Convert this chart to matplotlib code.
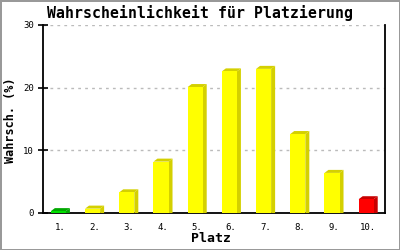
import matplotlib
matplotlib.use("Agg")
import matplotlib.pyplot as plt

plaetze = ["1.", "2.", "3.", "4.", "5.", "6.", "7.", "8.", "9.", "10."]
werte = [0.3, 0.7, 3.3, 8.2, 20.1, 22.6, 23.0, 12.6, 6.4, 2.2]
farben = ["#00e000"] + ["#ffff00"] * 8 + ["#ff0000"]
seiten = ["#00a800"] + ["#d4d000"] * 8 + ["#c80000"]

plt.rcParams['font.family'] = ['DejaVu Sans Mono']

fig = plt.figure(figsize=(4, 2.5), dpi=100)
fig.patch.set_edgecolor("#999999")
fig.patch.set_linewidth(2)
ax = fig.add_axes([0.1075, 0.148, 0.855, 0.752])

ax.set_xlim(0.5, 10.5)
ax.set_ylim(0, 30)

# Tiefe der Balken in Pixel -> Datenkoordinaten
dx = 4 / 34.2
dy = 3 / 6.27
w = 0.44

for i, (v, c, s) in enumerate(zip(werte, farben, seiten)):
    x0 = i + 1 - 0.05 - w / 2
    x1 = x0 + w
    ax.fill([x1, x1 + dx, x1 + dx, x1], [0, 0, v + dy, v], color=s, lw=0, zorder=3)
    ax.fill([x0, x0 + dx, x1 + dx, x1], [v, v + dy, v + dy, v], color=s, lw=0, zorder=3)
    ax.bar(i + 1 - 0.05, v, width=w, color=c, lw=0, zorder=4)

ax.set_yticks([0, 10, 20, 30])
ax.yaxis.grid(True, color="#bbbbbb", linestyle=(0, (2, 3)), linewidth=1)
ax.set_axisbelow(True)
ax.set_xticks(range(1, 11))
ax.set_xticklabels(plaetze)
ax.tick_params(axis="x", length=0, labelsize=6.5, pad=7)
ax.tick_params(axis="y", direction="inout", length=7, width=1.2, labelsize=6.5, pad=3)

ax.spines["top"].set_visible(False)
for sp in ["left", "right", "bottom"]:
    ax.spines[sp].set_linewidth(1.3)

fig.text(0.5, 0.948, "Wahrscheinlichkeit für Platzierung", fontsize=10.7,
         fontweight="bold", ha="center", va="center")
fig.text(0.5275, 0.048, "Platz", fontsize=9.5, fontweight="bold", ha="center", va="center")
fig.text(0.0275, 0.52, "Wahrsch. (%)", fontsize=8.5, fontweight="bold",
         ha="center", va="center", rotation=90)

fig.savefig("out.png", dpi=100, edgecolor=fig.get_edgecolor())
